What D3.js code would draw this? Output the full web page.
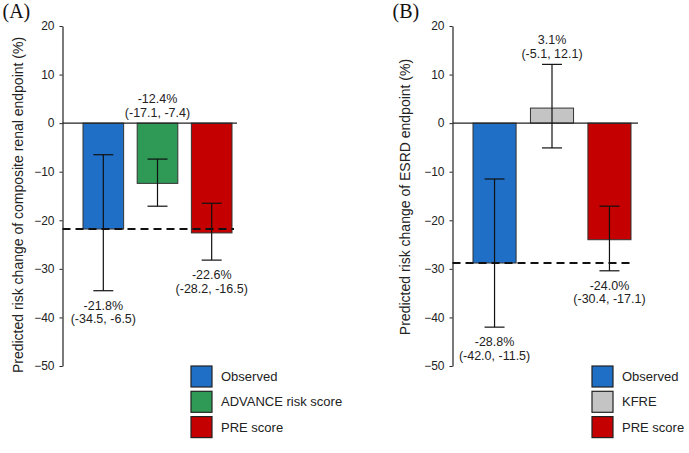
<!DOCTYPE html>
<html>
<head>
<meta charset="utf-8">
<script src="https://cdn.jsdelivr.net/npm/d3@7"></script>
<style>
  html, body { margin: 0; padding: 0; background: #fff; }
  svg { display: block; }
  text { font-family: "Liberation Sans", Arial, sans-serif; fill: #222; }
</style>
</head>
<body>
<svg id="chart" width="689" height="453"></svg>
<script>
// ---- Data ----
const yTicks = [20, 10, 0, -10, -20, -30, -40, -50];

const categoriesA = ["Observed", "ADVANCE risk score", "PRE score"];
const valuesA = [-21.8, -12.4, -22.6];
const lowerA = [-34.5, -17.1, -28.2];
const upperA = [-6.5, -7.4, -16.5];
const titleA = "Predicted risk change of composite renal endpoint (%)";

const categoriesB = ["Observed", "KFRE", "PRE score"];
const valuesB = [-28.8, 3.1, -24.0];
const lowerB = [-42.0, -5.1, -30.4];
const upperB = [-11.5, 12.1, -17.1];
const titleB = "Predicted risk change of ESRD endpoint (%)";

const colorsA = ["#1f6fc6", "#2e9a56", "#c40000"];
const colorsB = ["#1f6fc6", "#c4c4c4", "#c40000"];

// ---- Drawing ----
const svg = d3.select("#chart");
svg.append("rect").attr("width", 689).attr("height", 453).attr("fill", "#fff");

function drawPanel(cfg) {
  const g = svg.append("g");
  const y = d3.scaleLinear().domain([-50, 20]).range([366, 26]);
  const x = d3.scaleBand().domain(cfg.categories)
    .range([cfg.barStart, cfg.barEnd]).paddingInner(0.25).paddingOuter(0);

  const data = cfg.categories.map((c, i) => ({
    cat: c, v: cfg.values[i], lo: cfg.lower[i], hi: cfg.upper[i], color: cfg.colors[i]
  }));

  // panel letter
  svg.append("text").attr("x", cfg.axisX - 60).attr("y", 18)
    .style("font-family", "'Liberation Serif', 'Times New Roman', serif")
    .style("font-size", "20px").style("fill", "#111")
    .text(cfg.letter);

  // y axis
  const axis = d3.axisLeft(y).tickValues(yTicks).tickSize(3).tickSizeOuter(0).tickPadding(5);
  const ax = g.append("g").attr("transform", `translate(${cfg.axisX},0)`).call(axis);
  ax.select(".domain").attr("stroke", "#222").attr("stroke-width", 1.2);
  ax.selectAll(".tick line").attr("stroke", "#222");
  ax.selectAll(".tick text").style("font-size", "12px")
    .style("font-family", "'Liberation Sans', Arial, sans-serif").attr("fill", "#222");

  // axis title
  g.append("text")
    .attr("transform", `translate(${cfg.titleX},${cfg.titleY}) rotate(-90)`)
    .attr("text-anchor", "middle").style("font-size", "14px")
    .text(cfg.title);

  // bars
  g.selectAll("rect.bar").data(data).enter().append("rect")
    .attr("class", "bar")
    .attr("x", d => x(d.cat))
    .attr("width", x.bandwidth())
    .attr("y", d => y(Math.max(0, d.v)))
    .attr("height", d => Math.abs(y(d.v) - y(0)))
    .attr("fill", d => d.color)
    .attr("stroke", "#333").attr("stroke-width", 1);

  // zero line
  g.append("line").attr("x1", cfg.axisX).attr("x2", cfg.zeroEnd)
    .attr("y1", y(0)).attr("y2", y(0)).attr("stroke", "#222").attr("stroke-width", 1.2);

  // dashed reference line at observed value
  g.append("line").attr("x1", cfg.axisX).attr("x2", cfg.dashEnd)
    .attr("y1", y(cfg.values[0])).attr("y2", y(cfg.values[0]))
    .attr("stroke", "#111").attr("stroke-width", 2).attr("stroke-dasharray", "8,5");

  // error bars
  const cap = 10;
  const eb = g.selectAll("g.eb").data(data).enter().append("g")
    .attr("transform", d => `translate(${x(d.cat) + x.bandwidth() / 2},0)`);
  eb.append("line").attr("x1", 0).attr("x2", 0)
    .attr("y1", d => y(d.lo)).attr("y2", d => y(d.hi))
    .attr("stroke", "#111").attr("stroke-width", 1.2);
  eb.append("line").attr("x1", -cap).attr("x2", cap)
    .attr("y1", d => y(d.lo)).attr("y2", d => y(d.lo))
    .attr("stroke", "#111").attr("stroke-width", 1.2);
  eb.append("line").attr("x1", -cap).attr("x2", cap)
    .attr("y1", d => y(d.hi)).attr("y2", d => y(d.hi))
    .attr("stroke", "#111").attr("stroke-width", 1.2);

  // value labels
  eb.each(function (d) {
    const s = d3.select(this);
    const above = d.v > -20;
    let b1, b2;
    if (above) {
      b2 = Math.min(y(0), y(d.hi)) - 6;
      b1 = b2 - 14;
    } else {
      b1 = y(d.lo) + 19;
      b2 = b1 + 13.5;
    }
    s.append("text").attr("x", 0).attr("y", b1).attr("text-anchor", "middle")
      .style("font-size", "12.5px").text(`${d.v.toFixed(1)}%`);
    s.append("text").attr("x", 0).attr("y", b2).attr("text-anchor", "middle")
      .style("font-size", "12.5px").text(`(${d.lo.toFixed(1)}, ${d.hi.toFixed(1)})`);
  });

  // legend
  const lg = g.selectAll("g.lg").data(data).enter().append("g")
    .attr("transform", (d, i) => `translate(${cfg.legendX},${366 + i * 25.3})`);
  lg.append("rect").attr("width", 21).attr("height", 21)
    .attr("fill", d => d.color).attr("stroke", "#222").attr("stroke-width", 1.2);
  lg.append("text").attr("x", 30).attr("y", 10.5).attr("dy", "0.35em")
    .style("font-size", "13px").text(d => d.cat);
}

drawPanel({
  letter: "(A)", categories: categoriesA, values: valuesA, lower: lowerA, upper: upperA,
  colors: colorsA, title: titleA, axisX: 62.5, barStart: 83, barEnd: 232, zeroEnd: 237,
  dashEnd: 234, titleX: 23, titleY: 205, legendX: 191
});
drawPanel({
  letter: "(B)", categories: categoriesB, values: valuesB, lower: lowerB, upper: upperB,
  colors: colorsB, title: titleB, axisX: 452.5, barStart: 473, barEnd: 631, zeroEnd: 638,
  dashEnd: 634, titleX: 410, titleY: 197, legendX: 592
});
</script>
</body>
</html>
